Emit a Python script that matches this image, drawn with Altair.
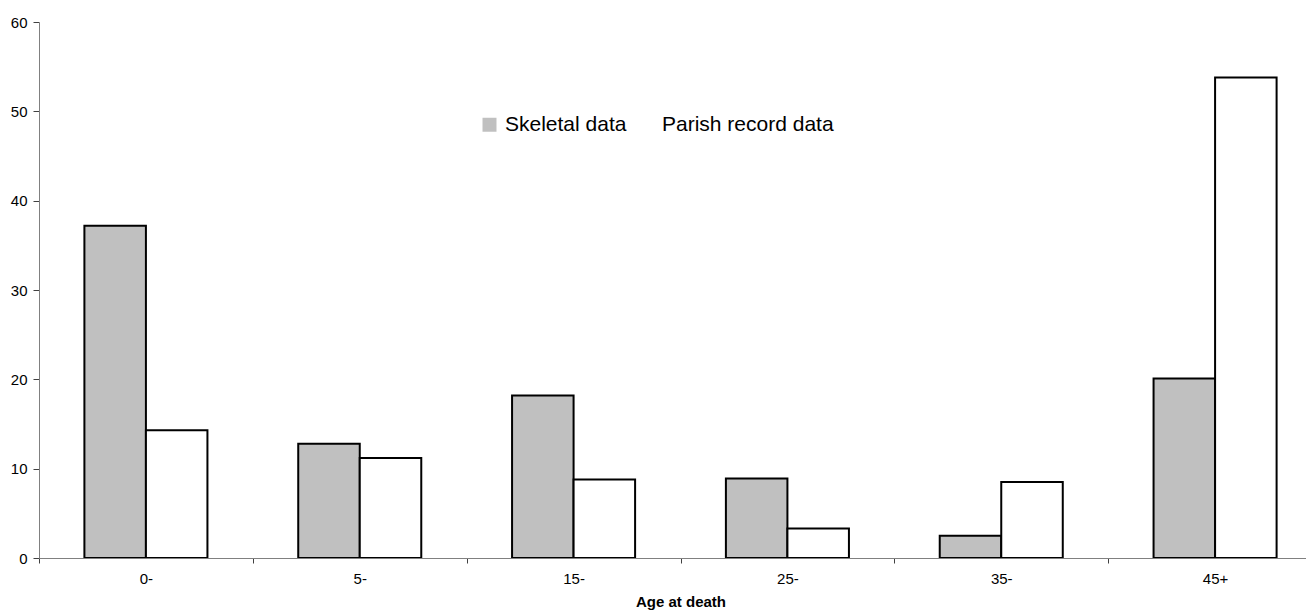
import altair as alt
import pandas as pd

ages = ["0-", "5-", "15-", "25-", "35-", "45+"]
series = ["Skeletal data", "Parish record data"]
skeletal = [37.2, 12.8, 18.2, 8.9, 2.5, 20.1]
parish = [14.3, 11.2, 8.8, 3.3, 8.5, 53.8]
y_ticks = [0, 10, 20, 30, 40, 50, 60]

rows = []
for a, s, p in zip(ages, skeletal, parish):
    rows.append({"age": a, "series": series[0], "value": s})
    rows.append({"age": a, "series": series[1], "value": p})
df = pd.DataFrame(rows)

FONT = "Liberation Sans"

chart = alt.Chart(df).mark_bar(stroke="black", strokeWidth=2).encode(
    x=alt.X(
        "age:N",
        sort=ages,
        scale=alt.Scale(paddingInner=0, paddingOuter=0, range=[0, 1283]),
        axis=alt.Axis(
            title="Age at death",
            labelAngle=0,
            tickBand="extent",
            tickSize=5,
            labelPadding=8,
            titlePadding=8,
            titleFontSize=15,
            titleFontWeight="bold",
            zindex=1,
        ),
    ),
    xOffset=alt.XOffset(
        "series:N", sort=series,
        scale=alt.Scale(paddingInner=0, paddingOuter=0.738),
    ),
    y=alt.Y(
        "value:Q",
        scale=alt.Scale(domain=[0, 60], nice=False),
        axis=alt.Axis(
            title=None,
            values=y_ticks,
            grid=False,
            tickSize=6,
            labelPadding=6,
            zindex=1,
        ),
    ),
    color=alt.Color(
        "series:N",
        sort=series,
        scale=alt.Scale(domain=series, range=["#C0C0C0", "#FFFFFF"]),
        legend=alt.Legend(
            title=None,
            orient="none",
            legendX=440,
            legendY=92,
            direction="horizontal",
            symbolType="square",
            symbolSize=196,
            symbolStrokeWidth=0,
            symbolStrokeColor="transparent",
            labelFontSize=21,
            labelFont=FONT,
            labelColor="black",
            labelOffset=5,
            labelLimit=500,
            columnPadding=9,
            padding=0,
        ),
    ),
).properties(
    width=1267,
    height=536,
    padding={"left": 31, "top": 14, "right": 0, "bottom": 52},
    autosize="none",
).configure_axis(
    labelFont=FONT,
    titleFont=FONT,
    labelFontSize=15,
    labelColor="black",
    titleColor="black",
    domainColor="#808080",
    tickColor="#404040",
).configure_view(stroke=None)

chart.save("out.html", embed_options={"renderer": "svg", "actions": False})
